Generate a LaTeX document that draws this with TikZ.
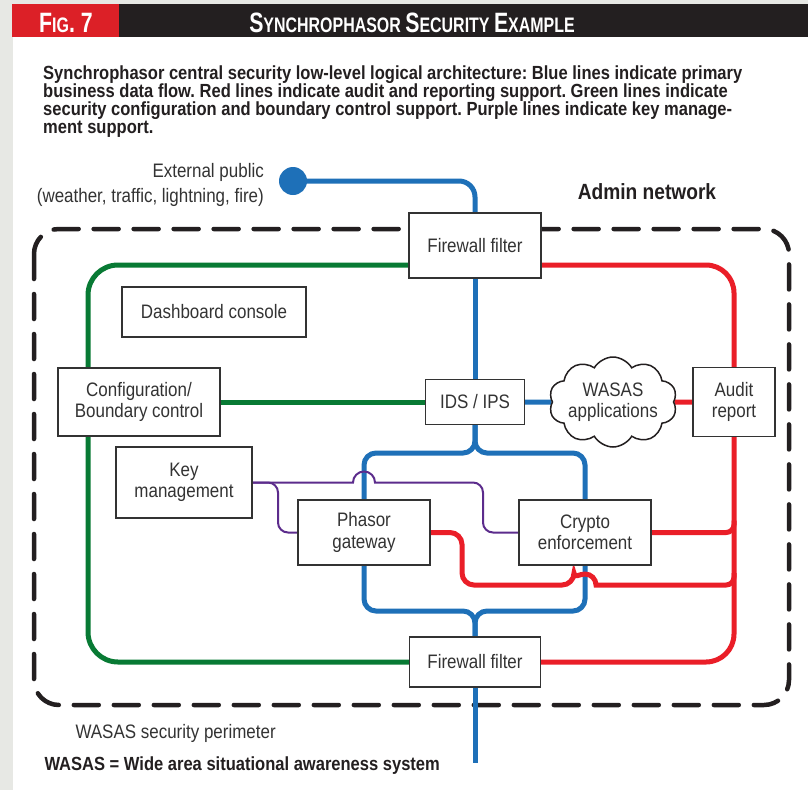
\documentclass[tikz,border=0pt]{standalone}
\usepackage{fontspec}
\setmainfont{Liberation Sans}[FakeStretch=0.87]
\newfontfamily\headfont{Liberation Sans}[FakeStretch=0.76]
\usetikzlibrary{shapes.symbols}
\definecolor{wblue}{RGB}{30,112,184}
\definecolor{wgreen}{RGB}{8,122,52}
\definecolor{wred}{RGB}{234,30,40}
\definecolor{wpurple}{RGB}{92,44,140}
\definecolor{wgray}{RGB}{231,232,228}
\definecolor{wink}{RGB}{51,51,51}
\definecolor{wbar}{RGB}{35,31,32}
\definecolor{wfig}{RGB}{220,32,39}
\newcommand{\lbl}{\fontsize{19.5}{21.5}\selectfont}
\newcommand{\hsc}[2]{{\fontsize{28}{28}\selectfont #1}{\fontsize{21}{21}\selectfont #2}}
\pgfdeclarelayer{back}
\pgfdeclarelayer{mid}
\pgfsetlayers{back,mid,main}
\frenchspacing

\begin{document}
\begin{tikzpicture}[x=1pt,y=-1pt,
  box/.style={draw=wink,line width=1.2pt,fill=white,text=wink,align=center,font=\lbl,inner sep=0pt},
  blueline/.style={draw=wblue,line width=5pt},
  greenline/.style={draw=wgreen,line width=5pt},
  redline/.style={draw=wred,line width=5pt},
  keyline/.style={draw=wpurple,line width=2pt},
  perimeter/.style={draw=wbar,line width=4.5pt,line cap=round,dash pattern=on 25pt off 15pt}]
   \useasboundingbox (0,0) rectangle (808,790);
   \begin{pgfonlayer}{back}
   \fill[wgray] (0,0) rectangle (808,790);
   \fill[white] (13,37) rectangle (808,790);
   \fill[wfig] (12,4) rectangle (119,37);
   \fill[wbar] (119,4) rectangle (808,37);
   \draw[perimeter,rounded corners=25] (34,229) rectangle (789,705);
   \end{pgfonlayer}
   \node[anchor=base,text=white,font=\headfont\bfseries\fontsize{21}{21}\selectfont] (fignum) at (66,32) {\hsc{F}{IG}{\fontsize{28}{28}\selectfont. 7}};
   \node[anchor=base,text=white,font=\headfont\bfseries\fontsize{21}{21}\selectfont] (title) at (412,32) {\hsc{S}{YNCHROPHASOR} \hsc{S}{ECURITY} \hsc{E}{XAMPLE}};
   \node[anchor=north west,align=left,inner sep=0pt,text=wbar,font=\bfseries\fontsize{19}{17.8}\selectfont] (caption) at (43,66)
    {Synchrophasor central security low-level logical architecture: Blue lines indicate primary\\
     business data flow. Red lines indicate audit and reporting support. Green lines indicate\\
     security configuration and boundary control support. Purple lines indicate key manage-\\
     ment support.};
   \node[circle,fill=wblue,minimum size=28,inner sep=0pt] (ext) at (293,181) {};
   \node[anchor=north east,align=right,inner sep=0pt,text=wink,font=\fontsize{19.5}{25}\selectfont] (extlabel) at (264,163)
    {External public\\(weather, traffic, lightning, fire)};
   \node[anchor=base,text=wbar,font=\bfseries\fontsize{22}{22}\selectfont] (admin) at (647,199) {Admin network};
   \node[box,minimum width=132,minimum height=65] (fwtop) at (475,245.5) {Firewall filter};
   \node[box,minimum width=184,minimum height=50] (dash) at (214,312) {Dashboard console};
   \node[box,minimum width=162,minimum height=68] (config) at (139,402) {Configuration/\\Boundary control};
   \node[box,minimum width=99,minimum height=45] (ids) at (475,402) {IDS / IPS};
   \node[cloud,cloud puffs=10,cloud puff arc=120,cloud ignores aspect,draw=wbar,line width=1.5pt,fill=white,text=wink,
     align=center,font=\lbl,minimum width=128,minimum height=90,inner xsep=-30pt,inner ysep=-16pt] (wasas) at (613,402) {WASAS\\applications};
   \node[box,minimum width=82,minimum height=69] (audit) at (734,402) {Audit\\report};
   \node[box,minimum width=136,minimum height=71] (keymgmt) at (184,482.5) {Key\\management};
   \node[box,minimum width=132,minimum height=65] (phasor) at (364,532.5) {Phasor\\gateway};
   \node[box,minimum width=132,minimum height=65] (crypto) at (585,532.5) {Crypto\\enforcement};
   \node[box,minimum width=131,minimum height=50] (fwbot) at (475,662) {Firewall filter};
   \node[anchor=base west,text=wink,font=\lbl] (perimlabel) at (72,738) {WASAS security perimeter};
   \node[anchor=base west,text=wbar,font=\bfseries\fontsize{19}{19}\selectfont] (note) at (41,770) {WASAS = Wide area situational awareness system};
   \coordinate (bsplit) at (475,453);
   \coordinate (bjoin) at (475,611);
   \coordinate (bend) at (475,763);
   \coordinate (gcol) at (88,0);
   \coordinate (pcol) at (278,0);
   \coordinate (pcol2) at (483,0);
   \coordinate (phop) at (353,482.5);
   \coordinate (rjog) at (462,585);
   \coordinate (rhop) at (574,585);
   \begin{pgfonlayer}{mid}
   \draw[blueline,rounded corners=16] (ext.center) -| (fwtop.north);
   \draw[blueline] (fwtop.south) -- (ids.north);
   \draw[blueline] (ids.east) -- (wasas.west);
   \draw[blueline,rounded corners=12] (ids.south) -- (bsplit) -| (phasor.north);
   \draw[blueline,rounded corners=12] (ids.south) -- (bsplit) -| (crypto.north);
   \draw[blueline,rounded corners=12] (phasor.south) |- (bjoin) -- (fwbot.north);
   \draw[blueline,rounded corners=12] (crypto.south) |- (bjoin) -- (fwbot.north);
   \draw[blueline] (fwbot.south) -- (bend);
   \draw[greenline,rounded corners=30] ([yshift=-19.5pt]fwtop.west) -| (config.north -| gcol);
   \draw[greenline,rounded corners=30] (config.south -| gcol) |- (fwbot.west);
   \draw[greenline] (config.east) -- (ids.west);
   \draw[redline,rounded corners=28] ([yshift=-19.5pt]fwtop.east) -| (audit.north);
   \draw[redline,rounded corners=28] (audit.south) |- (fwbot.east);
   \draw[redline] (wasas.east) -- (audit.west);
   \draw[redline,rounded corners=8] (crypto.east) -- (crypto.east -| audit.south) -- ++(0,-12);
   \draw[redline,rounded corners=12] (phasor.east) -| (rjog) -- (rhop) [sharp corners] arc[start angle=180,end angle=0,radius=11pt]
     [rounded corners=8] -- (rjog -| audit.south) -- ++(0,-12);
   \draw[keyline,rounded corners=10] (keymgmt.east) -| (pcol |- phasor.west) -- (phasor.west);
   \draw[keyline] (keymgmt.east) -- (phop) arc[start angle=180,end angle=0,radius=11pt]
     [rounded corners=10] -| (pcol2 |- crypto.west) -- (crypto.west);
   \end{pgfonlayer}
\end{tikzpicture}
\end{document}
